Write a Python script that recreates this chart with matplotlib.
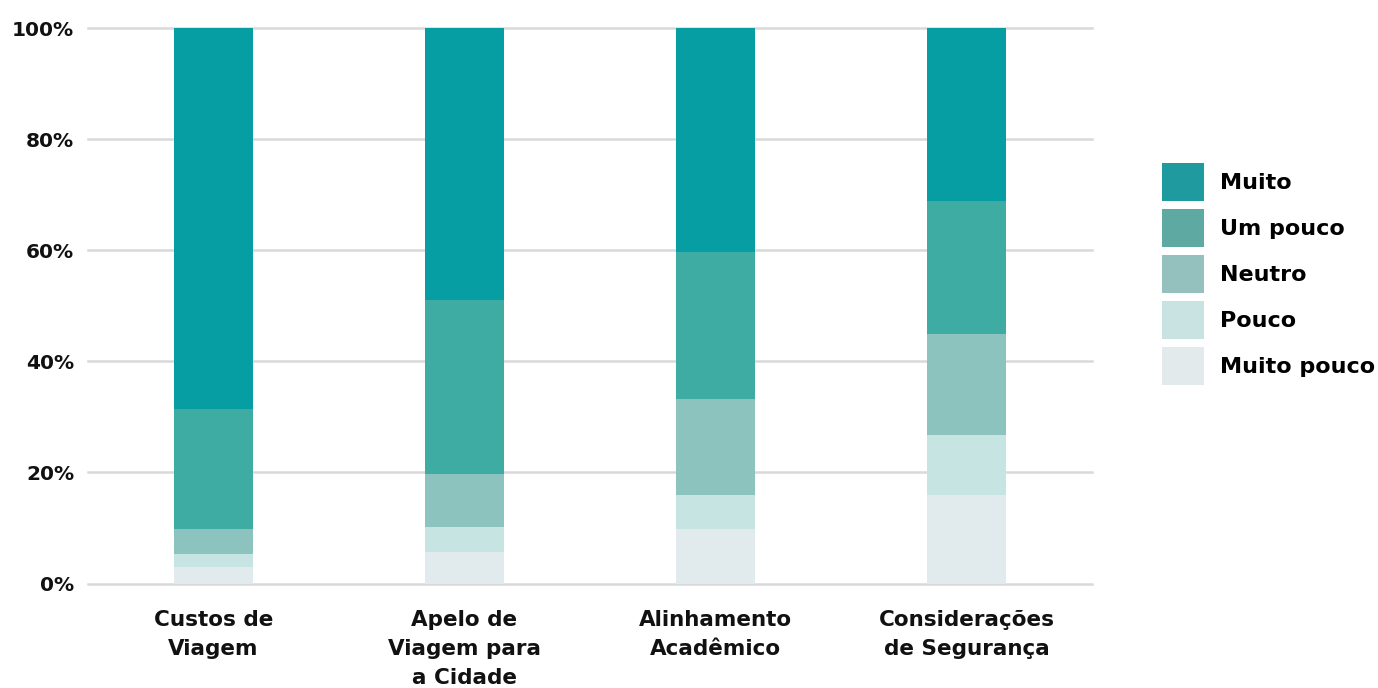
import numpy as np
import matplotlib.pyplot as plt
from matplotlib.patches import Patch
from matplotlib.ticker import FuncFormatter

# Dados (percentagens)
categorias = ["Custos de\nViagem", "Apelo de\nViagem para\na Cidade",
              "Alinhamento\nAcadêmico", "Considerações\nde Segurança"]
niveis = ["Muito pouco", "Pouco", "Neutro", "Um pouco", "Muito"]
muito_pouco = [3.0, 5.7, 9.8, 15.9]
pouco = [2.3, 4.5, 6.1, 10.9]
neutro = [4.5, 9.5, 17.3, 18.1]
um_pouco = [21.6, 31.3, 26.5, 24.0]
muito = [68.6, 49.0, 40.3, 31.1]
valores = [muito_pouco, pouco, neutro, um_pouco, muito]

cores = ["#e1eaec", "#c5e4e2", "#8dc3bf", "#3faca3", "#069da3"]
cores_legenda = ["#e2eaec", "#c9e3e3", "#94c0bd", "#5fa9a3", "#1f9a9e"]

plt.rcParams['font.family'] = ['DejaVu Sans']

fig = plt.figure(figsize=(13.78, 6.88), dpi=100)
ax = fig.add_axes([88 / 1378, 1 - 583.5 / 688, (1092 - 88) / 1378, (583.5 - 28) / 688])

x = np.arange(len(categorias))
base = np.zeros(len(categorias))
for nome, vals, cor in zip(niveis, valores, cores):
    ax.bar(x, vals, width=0.315, bottom=base, color=cor, label=nome,
           edgecolor='none', zorder=3)
    base += np.array(vals)

ax.set_xlim(-0.5, 3.5)
ax.set_ylim(0, 100)
ax.set_yticks(np.arange(0, 101, 20))
ax.yaxis.set_major_formatter(FuncFormatter(lambda v, p: f"{v:.0f}%"))
ax.set_xticks(x)
ax.set_xticklabels(categorias, fontsize=15.5, fontweight='bold', linespacing=1.58)
for lbl in ax.get_yticklabels():
    lbl.set_fontweight('bold')
    lbl.set_fontsize(14.5)
ax.tick_params(axis='y', length=0, pad=10, colors='#111111')
ax.tick_params(axis='x', length=0, pad=19, colors='#111111')
ax.grid(axis='y', color='#d9d9d9', linewidth=1.8, zorder=0)
for gl in ax.get_ygridlines():
    gl.set_clip_on(False)
ax.set_axisbelow(True)
for s in ax.spines.values():
    s.set_visible(False)

handles = [Patch(facecolor=c, edgecolor='none') for c in cores_legenda[::-1]]
labels = niveis[::-1]
fig.legend(handles, labels, loc='center left', bbox_to_anchor=(1162 / 1378, 1 - 274 / 688),
           bbox_transform=fig.transFigure, frameon=False, borderpad=0, borderaxespad=0,
           handlelength=1.9, handleheight=2.25, labelspacing=0.36, handletextpad=0.7,
           prop={'size': 16, 'weight': 'bold'})

fig.savefig("out.png", dpi=100)
